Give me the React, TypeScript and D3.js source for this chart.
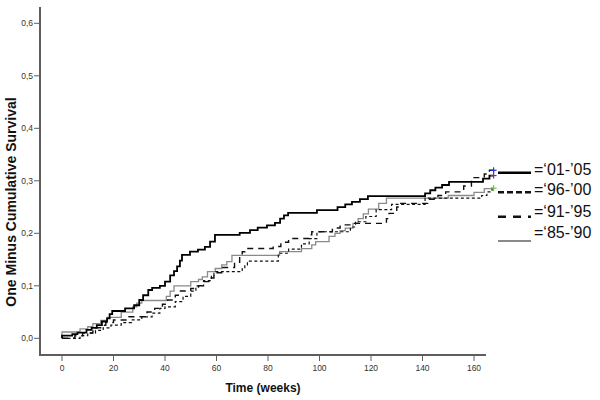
import React from "react";
import * as d3 from "d3";

// Step data: [week, 1 - survival] after each event
const series0105: [number, number][] = [
  [0, 0.0], [0, 0.005], [4, 0.008], [6, 0.011], [9.5, 0.016], [11.5, 0.02], [13.5, 0.025], [15.5, 0.032],
  [17.5, 0.038], [18.5, 0.046], [19.5, 0.052], [24.5, 0.057], [28, 0.063], [30, 0.073],
  [31.5, 0.082], [33.5, 0.092], [35, 0.096], [38, 0.1], [40, 0.108], [42, 0.12], [43.5, 0.128],
  [44.7, 0.137], [45.8, 0.148], [46.6, 0.159], [49.7, 0.165], [52.8, 0.169], [55.5, 0.174],
  [57.5, 0.184], [59.4, 0.197], [69, 0.201], [73, 0.206], [76, 0.211], [79.6, 0.215],
  [82.7, 0.22], [84.7, 0.228], [86.2, 0.234], [87.8, 0.239], [99, 0.244], [107, 0.25],
  [110, 0.255], [112.6, 0.26], [115.7, 0.265], [118.8, 0.271], [141, 0.276], [143, 0.282],
  [145, 0.287], [147.6, 0.292], [150.3, 0.298], [163.5, 0.304], [166, 0.31], [167.8, 0.31],
];
const series9600: [number, number][] = [
  [0, 0.0], [7, 0.005], [10, 0.01], [13, 0.015], [16, 0.02], [19, 0.025], [23, 0.03], [27, 0.035],
  [31, 0.041], [35, 0.048], [38, 0.057], [40, 0.06], [44, 0.07], [47, 0.08], [50, 0.09],
  [52, 0.1], [55, 0.11], [58, 0.12], [59, 0.127], [70, 0.133], [71, 0.14], [72, 0.147],
  [84, 0.162], [88, 0.17], [93, 0.18], [96, 0.19], [99, 0.203], [112, 0.212], [114, 0.222],
  [118, 0.232], [122, 0.245], [128, 0.255], [141, 0.267], [163, 0.272], [165, 0.279],
  [167, 0.286], [167.8, 0.286],
];
const series9195: [number, number][] = [
  [0, 0.0], [5, 0.005], [8, 0.01], [12, 0.02], [15, 0.025], [17, 0.03], [20, 0.035], [26, 0.041],
  [33, 0.05], [36, 0.057], [39, 0.065], [41, 0.073], [44, 0.082], [46, 0.09], [50, 0.095],
  [53, 0.1], [55, 0.108], [57, 0.115], [59, 0.125], [62, 0.135], [67, 0.145], [69, 0.155],
  [70, 0.165], [71, 0.171], [82, 0.175], [85, 0.183], [88, 0.19], [96, 0.197], [97, 0.203],
  [105, 0.21], [108, 0.216], [113, 0.219], [126, 0.228], [127, 0.238], [130, 0.25],
  [131, 0.257], [142, 0.265], [146, 0.272], [149, 0.279], [156, 0.29], [159, 0.306],
  [164, 0.313], [166, 0.32], [167.8, 0.32],
];
const series8590: [number, number][] = [
  [0, 0.0], [0, 0.012], [7, 0.018], [10, 0.022], [12, 0.028], [15, 0.034], [17.5, 0.04], [23, 0.05],
  [27.5, 0.06], [29, 0.067], [31, 0.072], [40.5, 0.08], [42, 0.09], [43.5, 0.1], [50, 0.108],
  [53, 0.112], [54.5, 0.117], [56.5, 0.127], [59.5, 0.133], [62, 0.14], [64, 0.146],
  [66, 0.158], [84.5, 0.165], [93, 0.171], [97, 0.178], [98.5, 0.184], [103.7, 0.194],
  [106, 0.2], [108, 0.205], [110, 0.21], [113, 0.219], [115, 0.228], [117, 0.237],
  [119, 0.246], [123, 0.257], [126, 0.267], [150, 0.272], [160, 0.278], [164, 0.285],
  [167.8, 0.285],
];

const legendLabels = ["=\u201801-\u201905", "=\u201896-\u201900", "=\u201891-\u201995", "=\u201885-\u201990"];
const xTicks = [0, 20, 40, 60, 80, 100, 120, 140, 160];
const yTicks = [0, 0.1, 0.2, 0.3, 0.4, 0.5, 0.6];

const FONT = "Arial, 'Liberation Sans', sans-serif";

export default function App() {
  const x = d3.scaleLinear().domain([0, 160]).range([62, 474]);
  const y = d3.scaleLinear().domain([0, 0.6]).range([338.3, 23.3]);
  const line = d3
    .line<[number, number]>()
    .x((d) => x(d[0]))
    .y((d) => y(d[1]))
    .curve(d3.curveStepAfter);

  const styles = [
    { data: series0105, stroke: "#000", width: 1.8, dash: undefined as string | undefined, lw: 2.4 },
    { data: series9600, stroke: "#111", width: 1.2, dash: "3,2.5", lw: 2.4 },
    { data: series9195, stroke: "#111", width: 1.4, dash: "6,5", lw: 2.4 },
    { data: series8590, stroke: "#8a8a8a", width: 1.3, dash: undefined as string | undefined, lw: 2 },
  ];
  const legendDash = [undefined, "6,3", "8,7", undefined];
  const legendLineY = [172.7, 192.3, 216.7, 241];
  const legendTextY = [174.5, 194.5, 216.5, 237.5];

  const axisColor = "#5e5e5e";
  const plus = (cx: number, cy: number, color: string, key: string) => (
    <g key={key} stroke={color} strokeWidth={1.2}>
      <line x1={cx - 3} x2={cx + 3} y1={cy} y2={cy} />
      <line x1={cx} x2={cx} y1={cy - 3} y2={cy + 3} />
    </g>
  );

  return (
    <svg
      width={600}
      height={400}
      style={{ position: "absolute", left: 0, top: 0, background: "#fff" }}
      fontFamily={FONT}
    >
      <rect width={600} height={400} fill="#fff" />
      {/* axes */}
      <line x1={40} x2={40} y1={7} y2={356} stroke={axisColor} strokeWidth={2} />
      <line x1={39} x2={486} y1={355} y2={355} stroke={axisColor} strokeWidth={2} />
      {yTicks.map((t) => (
        <g key={"y" + t}>
          <line x1={34} x2={40} y1={y(t)} y2={y(t)} stroke={axisColor} strokeWidth={1} />
          <text x={33} y={y(t) + 3} textAnchor="end" fontSize={8.5} fill="#333">
            {t.toFixed(1).replace(".", ",")}
          </text>
        </g>
      ))}
      {xTicks.map((t) => (
        <g key={"x" + t}>
          <line x1={x(t)} x2={x(t)} y1={355} y2={361} stroke={axisColor} strokeWidth={1} />
          <text x={x(t)} y={371} textAnchor="middle" fontSize={8.5} fill="#333">
            {t}
          </text>
        </g>
      ))}
      <text x={263} y={392} textAnchor="middle" fontSize={12} fontWeight="bold" fill="#111">
        Time (weeks)
      </text>
      <text
        transform="translate(16,202) rotate(-90)"
        textAnchor="middle"
        fontSize={14}
        fontWeight="bold"
        fill="#111"
      >
        One Minus Cumulative Survival
      </text>

      {/* curves */}
      {styles
        .slice()
        .reverse()
        .map((s, i) => (
          <path
            key={"c" + i}
            d={line(s.data) || ""}
            fill="none"
            stroke={s.stroke}
            strokeWidth={s.width}
            strokeDasharray={s.dash}
          />
        ))}

      {/* censor marks */}
      {plus(x(167.8) - 0.5, y(series9195[series9195.length - 1][1]), "#2233dd", "p1")}
      {plus(x(167.8) - 0.5, y(series0105[series0105.length - 1][1]), "#882299", "p2")}
      {plus(x(167.8) - 0.5, y(series9600[series9600.length - 1][1]), "#66cc44", "p3")}

      {/* legend */}
      {legendLabels.map((lab, i) => (
        <g key={"l" + i}>
          <line
            x1={498}
            x2={531}
            y1={legendLineY[i]}
            y2={legendLineY[i]}
            stroke={styles[i].stroke}
            strokeWidth={styles[i].lw}
            strokeDasharray={legendDash[i]}
          />
          <text x={534} y={legendTextY[i]} fontSize={16} fill="#111">
            {lab}
          </text>
        </g>
      ))}
    </svg>
  );
}
